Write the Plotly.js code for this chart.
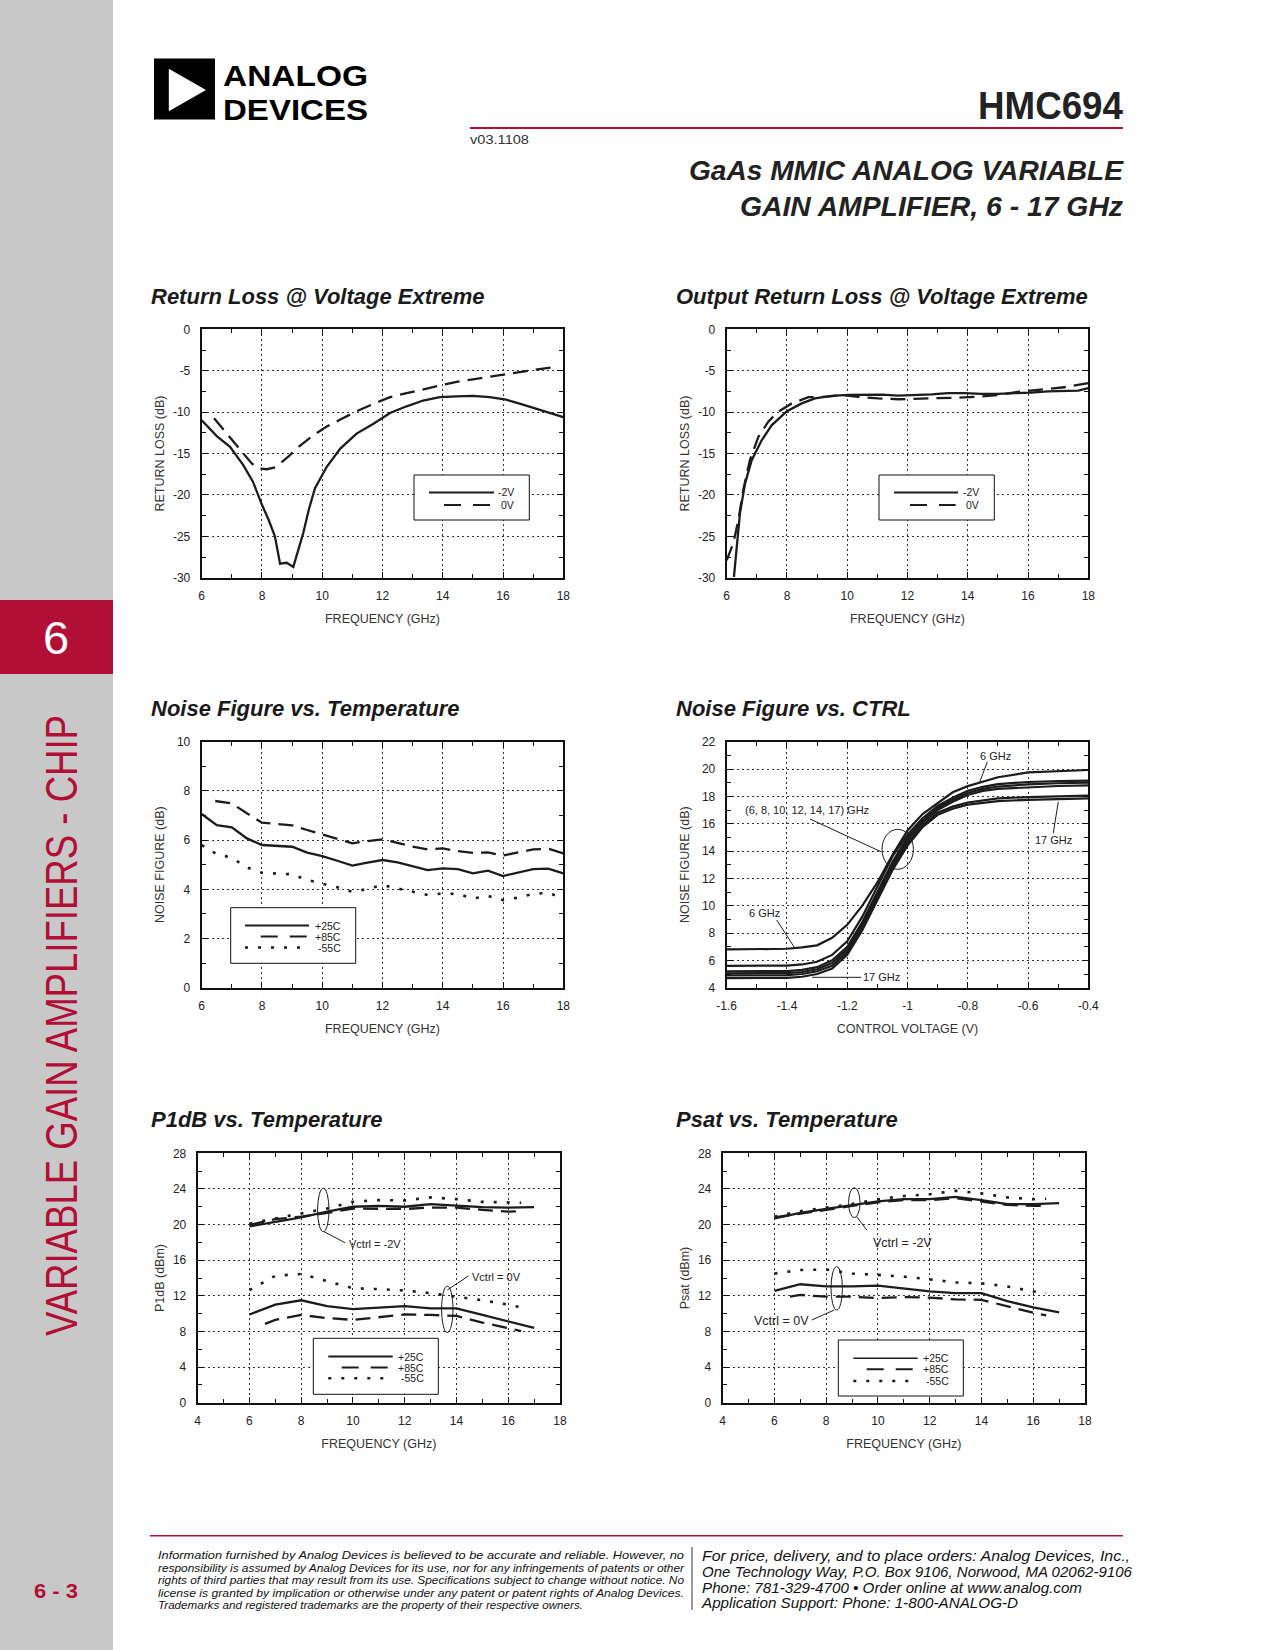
<!DOCTYPE html>
<html>
<head>
<meta charset="utf-8">
<script src="https://cdn.plot.ly/plotly-3.0.1.min.js"></script>
<style>
html,body{margin:0;padding:0;background:#fff;}
#page{position:relative;width:1275px;height:1650px;overflow:hidden;background:#fff;}
#chrome{position:absolute;left:0;top:0;}
#plot{position:absolute;left:0;top:0;width:1275px;height:1650px;}
</style>
</head>
<body>
<div id="page">
<svg id="chrome" width="1275" height="1650" font-family="Liberation Sans, Arial, Helvetica, sans-serif">
  <rect x="0" y="0" width="113" height="1650" fill="#c8c8c8"/>
  <rect x="0" y="600" width="113" height="74" fill="#b20f37"/>
  <text x="56" y="654" font-size="47" fill="#ffffff" text-anchor="middle">6</text>
  <text transform="translate(77,1336) rotate(-90)" font-size="45" fill="#b20f37" textLength="621" lengthAdjust="spacingAndGlyphs">VARIABLE GAIN AMPLIFIERS - CHIP</text>
  <text x="34" y="1598" font-size="21" font-weight="bold" fill="#b20f37" textLength="44" lengthAdjust="spacingAndGlyphs">6 - 3</text>
  <rect x="154" y="58.5" width="61" height="61" fill="#000"/>
  <polygon points="168.8,68.8 168.8,111.2 206,90" fill="#fff"/>
  <text x="223" y="85.5" font-size="30" font-weight="bold" fill="#000" textLength="145" lengthAdjust="spacingAndGlyphs">ANALOG</text>
  <text x="223" y="119.5" font-size="30" font-weight="bold" fill="#000" textLength="145" lengthAdjust="spacingAndGlyphs">DEVICES</text>
  <text x="1123" y="118.5" font-size="38" font-weight="bold" fill="#222" text-anchor="end" textLength="145" lengthAdjust="spacingAndGlyphs">HMC694</text>
  <rect x="470" y="127" width="653" height="2" fill="#b20f37"/>
  <text x="470" y="143.5" font-size="12.5" fill="#333" textLength="59" lengthAdjust="spacingAndGlyphs">v03.1108</text>
  <text x="1123" y="180" font-size="28" font-weight="bold" font-style="italic" fill="#222" text-anchor="end" textLength="434" lengthAdjust="spacingAndGlyphs">GaAs MMIC ANALOG VARIABLE</text>
  <text x="1123" y="215.5" font-size="28" font-weight="bold" font-style="italic" fill="#222" text-anchor="end" textLength="383" lengthAdjust="spacingAndGlyphs">GAIN AMPLIFIER, 6 - 17 GHz</text>
  <rect x="150" y="1535" width="973" height="1.5" fill="#b20f37"/>
  <g font-size="10.5" font-style="italic" fill="#111">
    <text x="158" y="1559" textLength="526" lengthAdjust="spacingAndGlyphs">Information furnished by Analog Devices is believed to be accurate and reliable. However, no</text>
    <text x="158" y="1571.5" textLength="526" lengthAdjust="spacingAndGlyphs">responsibility is assumed by Analog Devices for its use, nor for any infringements of patents or other</text>
    <text x="158" y="1584" textLength="526" lengthAdjust="spacingAndGlyphs">rights of third parties that may result from its use. Specifications subject to change without notice. No</text>
    <text x="158" y="1596.5" textLength="526" lengthAdjust="spacingAndGlyphs">license is granted by implication or otherwise under any patent or patent rights of Analog Devices.</text>
    <text x="158" y="1609" textLength="425" lengthAdjust="spacingAndGlyphs">Trademarks and registered trademarks are the property of their respective owners.</text>
  </g>
  <line x1="692" y1="1547" x2="692" y2="1610" stroke="#333" stroke-width="1"/>
  <g font-size="14" font-style="italic" fill="#111">
    <text x="702" y="1561" textLength="428" lengthAdjust="spacingAndGlyphs">For price, delivery, and to place orders: Analog Devices, Inc.,</text>
    <text x="702" y="1577" textLength="430" lengthAdjust="spacingAndGlyphs">One Technology Way, P.O. Box 9106, Norwood, MA 02062-9106</text>
    <text x="702" y="1592.5" textLength="380" lengthAdjust="spacingAndGlyphs">Phone: 781-329-4700 • Order online at www.analog.com</text>
    <text x="702" y="1608" textLength="316" lengthAdjust="spacingAndGlyphs">Application Support: Phone: 1-800-ANALOG-D</text>
  </g>
</svg>
<div id="plot"></div>
</div>
<script>
// ---------------- DATA ----------------
// Chart 1: Return Loss @ Voltage Extreme
const rlFreqM2V = [6,6.5,6.94,7.38,7.7,8,8.22,8.43,8.6,8.82,9.04,9.2,9.37,9.56,9.76,10.15,10.6,11.14,11.7,12.25,12.8,13.35,13.9,14.46,15,15.56,16.1,16.66,17.2,17.67,18];
const rlM2V = [-11,-12.9,-14.2,-16.4,-18.4,-21.2,-23,-25,-28.3,-28.2,-28.7,-26.8,-24.6,-21.7,-19.2,-16.6,-14.4,-12.6,-11.4,-10.1,-9.3,-8.6,-8.2,-8.1,-8.05,-8.2,-8.5,-9.1,-9.7,-10.15,-10.6];
const rlFreq0V = [6.41,6.88,7.2,7.66,7.9,8.16,8.4,8.6,8.9,9.15,9.7,10.15,10.6,11.14,11.7,12.25,12.8,13.35,13.9,14.46,15,15.56,16.1,16.66,17.2,17.67];
const rl0V = [-10.75,-12.8,-14.2,-16.2,-16.8,-16.9,-16.7,-16.2,-15.3,-14.4,-12.8,-11.75,-10.9,-9.9,-9.0,-8.2,-7.7,-7.25,-6.75,-6.35,-6.05,-5.7,-5.4,-5.1,-4.8,-4.6];
// Chart 2: Output Return Loss @ Voltage Extreme
const orlFreqM2V = [6.24,6.33,6.44,6.61,6.83,7.16,7.49,8,8.49,8.93,9.48,10.04,10.6,11.14,11.7,12.25,12.8,13.35,13.9,14.46,15,15.56,16.1,16.66,17.2,17.67,18];
const orlM2V = [-29.9,-26.3,-22.2,-18.6,-15.8,-13.4,-11.6,-9.9,-8.95,-8.35,-8.05,-7.93,-7.9,-7.9,-8.0,-7.95,-7.85,-7.7,-7.7,-7.8,-7.8,-7.7,-7.65,-7.5,-7.45,-7.4,-7.1];
const orlFreq0V = [6,6.22,6.39,6.55,6.77,7.05,7.38,7.71,8.16,8.71,9.26,9.82,10.37,11.03,11.7,12.36,13.02,13.68,14.35,15,15.66,16.1,16.66,17.2,18];
const orl0V = [-27.9,-25.8,-23,-19.4,-15.8,-13,-11.15,-9.95,-8.95,-8.2,-8.15,-7.95,-8.15,-8.35,-8.45,-8.4,-8.35,-8.25,-8.15,-7.95,-7.55,-7.4,-7.2,-7.0,-6.5];
// Chart 3: Noise Figure vs. Temperature
const nfFreq = [6,6.5,7,7.5,8,8.5,9,9.5,10,10.5,11,11.5,12,12.5,13,13.5,14,14.5,15,15.5,16,16.5,17,17.5,18];
const nf25C = [7.06,6.61,6.52,6.07,5.8,5.77,5.73,5.49,5.35,5.16,4.96,5.08,5.19,5.09,4.92,4.78,4.85,4.82,4.65,4.76,4.54,4.67,4.82,4.84,4.65];
const nfFreq85 = [6.45,7,7.5,8,8.5,9,9.5,10,10.5,11,11.5,12,12.5,13,13.5,14,14.5,15,15.5,16,16.5,17,17.5,18];
const nf85C = [7.59,7.49,7.09,6.71,6.65,6.6,6.41,6.23,6.07,5.87,5.96,6.03,5.89,5.73,5.62,5.66,5.55,5.48,5.5,5.37,5.5,5.62,5.65,5.46];
const nfm55C = [5.8,5.43,5.28,4.89,4.67,4.65,4.61,4.38,4.24,4.08,3.9,4.01,4.17,4.04,3.9,3.77,3.83,3.81,3.63,3.73,3.56,3.66,3.81,3.86,3.63];
// Chart 4: Noise Figure vs. CTRL
const ctrlV = [-1.6,-1.5,-1.4,-1.35,-1.3,-1.25,-1.2,-1.15,-1.1,-1.05,-1.0,-0.95,-0.9,-0.85,-0.8,-0.75,-0.7,-0.6,-0.5,-0.4];
const nfCtrl6 = [6.8,6.8,6.85,6.95,7.1,7.65,8.6,10.0,11.7,13.7,15.5,16.7,17.5,18.3,18.75,19.1,19.4,19.75,19.85,19.93];
const nfCtrl8 = [5.6,5.6,5.62,5.7,5.9,6.4,7.4,9.2,11.4,13.6,15.2,16.4,17.3,17.9,18.4,18.7,18.9,19.05,19.12,19.15];
const nfCtrl10 = [5.2,5.2,5.22,5.3,5.5,6.0,7.0,8.8,11.0,13.2,15.0,16.25,17.15,17.75,18.25,18.55,18.72,18.88,18.96,19.0];
const nfCtrl12 = [5.05,5.05,5.07,5.15,5.35,5.8,6.8,8.6,10.8,13.0,14.8,16.1,17.0,17.6,18.1,18.4,18.55,18.68,18.76,18.8];
const nfCtrl14 = [4.9,4.9,4.92,5.0,5.2,5.6,6.6,8.4,10.6,12.8,14.6,15.9,16.8,17.25,17.55,17.72,17.85,17.95,18.02,18.05];
const nfCtrl17 = [4.7,4.7,4.72,4.8,5.0,5.4,6.4,8.2,10.4,12.6,14.4,15.75,16.65,17.1,17.4,17.55,17.65,17.75,17.82,17.85];
// Chart 5: P1dB vs. Temperature
const pFreq = [6,7,8,9,10,11,12,13,14,15,16,17];
const pFreqCold = [6,7,8,9,10,11,12,13,14,15,16,16.5];
const pFreqHot = [6,7,8,9,10,11,12,13,14,15,16,16.5];
const pFreqHot0V = [6.6,7,8,9,10,11,12,13,14,15,16,16.5];
const p1dbM2V25 = [19.8,20.3,20.8,21.45,22.0,22.1,22.0,22.3,22.1,21.95,21.9,21.95];
const p1dbM2V85 = [19.95,20.6,20.9,21.3,21.8,21.8,21.75,21.9,21.9,21.65,21.45,21.5];
const p1dbM2Vm55 = [20.1,20.7,21.25,21.8,22.55,22.75,22.7,23.05,22.85,22.55,22.45,22.45];
const p1db0V25 = [9.9,11.0,11.5,10.85,10.5,10.7,10.85,10.6,10.6,9.85,9.1,8.4];
const p1db0V85 = [8.85,9.3,9.85,9.5,9.3,9.6,9.9,9.85,9.75,9.0,8.4,8.05];
const p1db0Vm55 = [12.65,14.25,14.45,13.65,12.85,12.75,12.6,12.3,11.9,11.5,11.0,10.7];
// Chart 6: Psat vs. Temperature
const psatM2V25 = [20.7,21.3,21.75,22.2,22.6,22.85,22.85,23.1,22.75,22.3,22.3,22.4];
const psatM2V85 = [20.8,21.2,21.65,22.1,22.5,22.75,22.75,22.95,22.55,22.2,22.1,22.1];
const psatM2Vm55 = [20.9,21.5,21.9,22.3,22.85,23.2,23.4,23.8,23.5,23.05,22.85,22.9];
const psat0V25 = [12.55,13.3,13.05,13.05,13.15,12.85,12.5,12.3,12.3,11.4,10.7,10.15];
const psat0V85 = [11.9,12.1,11.9,11.9,11.75,11.85,11.8,11.6,11.55,10.8,10.1,9.8];
const psat0Vm55 = [14.5,14.9,14.95,14.5,14.35,14.15,13.85,13.5,13.4,13.05,12.5,12.3];

// Tick labels
const freqTicks = [6,8,10,12,14,16,18];
const freqTickText = ['6','8','10','12','14','16','18'];
const freqMinor = [7,9,11,13,15,17];
const rlTicks = [-30,-25,-20,-15,-10,-5,0];
const rlTickText = ['-30','-25','-20','-15','-10','-5','0'];
const rlMinor = [-27.5,-22.5,-17.5,-12.5,-7.5,-2.5];
const nfTicks = [0,2,4,6,8,10];
const nfTickText = ['0','2','4','6','8','10'];
const nfMinor = [1,3,5,7,9];
const ctrlTicks = [-1.6,-1.4,-1.2,-1,-0.8,-0.6,-0.4];
const ctrlTickText = ['-1.6','-1.4','-1.2','-1','-0.8','-0.6','-0.4'];
const ctrlMinor = [-1.5,-1.3,-1.1,-0.9,-0.7,-0.5];
const nfcTicks = [4,6,8,10,12,14,16,18,20,22];
const nfcTickText = ['4','6','8','10','12','14','16','18','20','22'];
const nfcMinor = [5,7,9,11,13,15,17,19,21];
const pFreqTicks = [4,6,8,10,12,14,16,18];
const pFreqTickText = ['4','6','8','10','12','14','16','18'];
const pFreqMinor = [5,7,9,11,13,15,17];
const pTicks = [0,4,8,12,16,20,24,28];
const pTickText = ['0','4','8','12','16','20','24','28'];
const pMinor = [2,6,10,14,18,22,26];

// ---------------- LAYOUT ----------------
const W = 1275, H = 1650;
const px = x => x / W;
const py = y => 1 - y / H;
const FONT = 'Liberation Sans, Arial, Helvetica, sans-serif';
const INK = '#1c1c1c';

const boxes = [
  {x0:201.7, x1:563.3, y0:329.3, y1:577.7},
  {x0:726.7, x1:1088.3, y0:329.3, y1:577.7},
  {x0:201.7, x1:563.3, y0:741.7, y1:987.7},
  {x0:726.7, x1:1088.3, y0:741.7, y1:987.7},
  {x0:197.7, x1:560.0, y0:1153.3, y1:1402.7},
  {x0:722.7, x1:1085.0, y0:1153.3, y1:1402.7}
];
const yTitleStandoff = [6, 6, 10, 10, 6, 6];

function axisBase(vals, text, minor, title, range) {
  return {
    range: range, tickmode: 'array', tickvals: vals, ticktext: text,
    ticks: 'inside', ticklen: 6, tickwidth: 1, tickcolor: '#111',
    mirror: 'allticks', showline: true, linecolor: '#111', linewidth: 2,
    showgrid: true, gridcolor: '#333', griddash: '2px,3px', gridwidth: 1,
    zeroline: false, fixedrange: true,
    minor: {tickvals: minor, ticks: 'inside', ticklen: 4, tickwidth: 1, tickcolor: '#111', showgrid: false},
    tickfont: {family: FONT, size: 12, color: '#222'},
    title: {text: title, font: {family: FONT, size: 12.5, color: '#333'}}
  };
}

const layout = {
  width: W, height: H, margin: {l:0, r:0, t:0, b:0},
  paper_bgcolor: 'rgba(0,0,0,0)', plot_bgcolor: '#ffffff',
  showlegend: false, font: {family: FONT}
};

const axSpecs = [
  {x:[freqTicks,freqTickText,freqMinor,'FREQUENCY (GHz)',[6,18]], y:[rlTicks,rlTickText,rlMinor,'RETURN LOSS (dB)',[-30,0]]},
  {x:[freqTicks,freqTickText,freqMinor,'FREQUENCY (GHz)',[6,18]], y:[rlTicks,rlTickText,rlMinor,'RETURN LOSS (dB)',[-30,0]]},
  {x:[freqTicks,freqTickText,freqMinor,'FREQUENCY (GHz)',[6,18]], y:[nfTicks,nfTickText,nfMinor,'NOISE FIGURE (dB)',[0,10]]},
  {x:[ctrlTicks,ctrlTickText,ctrlMinor,'CONTROL VOLTAGE (V)',[-1.6,-0.4]], y:[nfcTicks,nfcTickText,nfcMinor,'NOISE FIGURE (dB)',[4,22]]},
  {x:[pFreqTicks,pFreqTickText,pFreqMinor,'FREQUENCY (GHz)',[4,18]], y:[pTicks,pTickText,pMinor,'P1dB (dBm)',[0,28]]},
  {x:[pFreqTicks,pFreqTickText,pFreqMinor,'FREQUENCY (GHz)',[4,18]], y:[pTicks,pTickText,pMinor,'Psat (dBm)',[0,28]]}
];

axSpecs.forEach((s, i) => {
  const n = i === 0 ? '' : String(i + 1);
  const b = boxes[i];
  const xa = axisBase(...s.x);
  xa.domain = [px(b.x0), px(b.x1)];
  xa.anchor = 'y' + n;
  xa.ticklabelstandoff = 6;
  xa.title.standoff = 12;
  const ya = axisBase(...s.y);
  ya.domain = [py(b.y1), py(b.y0)];
  ya.anchor = 'x' + n;
  ya.ticklabelstandoff = 7;
  ya.title.standoff = yTitleStandoff[i];
  layout['xaxis' + n] = xa;
  layout['yaxis' + n] = ya;
});

// ---------------- TRACES ----------------
function line(x, y, i, dash, w) {
  const n = i === 0 ? '' : String(i + 1);
  return {type:'scatter', mode:'lines', x:x, y:y, xaxis:'x'+n, yaxis:'y'+n,
          line:{color:INK, width:w || 2.3, dash:dash || 'solid'}, hoverinfo:'skip'};
}
const DASH = '15px,8px';
const DOT = '3px,10px';
const traces = [
  line(rlFreqM2V, rlM2V, 0), line(rlFreq0V, rl0V, 0, DASH),
  line(orlFreqM2V, orlM2V, 1), line(orlFreq0V, orl0V, 1, DASH),
  line(nfFreq, nf25C, 2), line(nfFreq85, nf85C, 2, DASH), line(nfFreq, nfm55C, 2, DOT, 2.6),
  line(ctrlV, nfCtrl6, 3, 'solid', 2.2), line(ctrlV, nfCtrl8, 3, 'solid', 2.2), line(ctrlV, nfCtrl10, 3, 'solid', 2.2),
  line(ctrlV, nfCtrl12, 3, 'solid', 2.2), line(ctrlV, nfCtrl14, 3, 'solid', 2.2), line(ctrlV, nfCtrl17, 3, 'solid', 2.2),
  line(pFreq, p1dbM2V25, 4), line(pFreqHot, p1dbM2V85, 4, DASH), line(pFreqCold, p1dbM2Vm55, 4, DOT, 2.6),
  line(pFreq, p1db0V25, 4), line(pFreqHot0V, p1db0V85, 4, DASH), line(pFreqCold, p1db0Vm55, 4, DOT, 2.6),
  line(pFreq, psatM2V25, 5), line(pFreqHot, psatM2V85, 5, DASH), line(pFreqCold, psatM2Vm55, 5, DOT, 2.6),
  line(pFreq, psat0V25, 5), line(pFreqHot0V, psat0V85, 5, DASH), line(pFreqCold, psat0Vm55, 5, DOT, 2.6)
];

// ---------------- DECORATIONS ----------------
const shapes = [];
const annotations = [];
function pline(x0, y0, x1, y1, dash, w) {
  shapes.push({type:'line', xref:'paper', yref:'paper', x0:px(x0), y0:py(y0), x1:px(x1), y1:py(y1),
               line:{color:INK, width:w || 1, dash:dash || 'solid'}, layer:'above'});
}
function ptext(x, y, t, size, xanchor, opts) {
  annotations.push(Object.assign({xref:'paper', yref:'paper', x:px(x), y:py(y), text:t, showarrow:false,
    xanchor:xanchor || 'left', yanchor:'middle', font:{family:FONT, size:size || 11, color:'#222'}}, opts || {}));
}
function ellipse(cx, cy, rx, ry) {
  shapes.push({type:'circle', xref:'paper', yref:'paper', x0:px(cx-rx), x1:px(cx+rx), y0:py(cy-ry), y1:py(cy+ry),
               line:{color:INK, width:1}, layer:'above'});
}
function legendBox(x0, y0, x1, y1, items) {
  shapes.push({type:'rect', xref:'paper', yref:'paper', x0:px(x0), x1:px(x1), y0:py(y0), y1:py(y1),
               line:{color:'#111', width:1}, fillcolor:'#ffffff', layer:'above'});
  items.forEach(it => {
    pline(it.a, it.y, it.b, it.y, it.dash, it.w || 2);
    ptext(it.lx, it.y, it.label, 10.5, 'right');
  });
}

// chart titles
const chartTitles = ['Return Loss @ Voltage Extreme', 'Output Return Loss @ Voltage Extreme',
  'Noise Figure vs. Temperature', 'Noise Figure vs. CTRL', 'P1dB vs. Temperature', 'Psat vs. Temperature'];
const titlePos = [[149,296.5],[674,296.5],[149,708],[674,708],[149,1119.5],[674,1119.5]];
chartTitles.forEach((t, i) => ptext(titlePos[i][0], titlePos[i][1], t, 22, 'left',
  {font:{family:FONT, size:22, color:'#1a1a1a', weight:700, style:'italic'}}));

// legends
legendBox(414, 475, 529.3, 520, [
  {a:429, b:494, y:492.5, dash:'solid', label:'-2V', lx:516},
  {a:444, b:490, y:505, dash:'17px,12px', label:'0V', lx:516}]);
legendBox(879, 475, 994.3, 520, [
  {a:894, b:958, y:492.5, dash:'solid', label:'-2V', lx:981},
  {a:910, b:955.7, y:505, dash:'17px,12px', label:'0V', lx:981}]);
legendBox(230.7, 907.7, 355.7, 963.3, [
  {a:245, b:309, y:925.5, dash:'solid', label:'+25C', lx:343},
  {a:260.7, b:306.7, y:936.5, dash:'17px,12px', label:'+85C', lx:343},
  {a:245, b:306.7, y:947.5, dash:'3px,10px', label:'-55C', lx:343, w:2.4}]);
legendBox(313.3, 1338.3, 438.3, 1394.3, [
  {a:328.3, b:392.7, y:1356.5, dash:'solid', label:'+25C', lx:426},
  {a:341.7, b:390, y:1367.5, dash:'17px,12px', label:'+85C', lx:426},
  {a:328.3, b:390, y:1378.3, dash:'3px,10px', label:'-55C', lx:426, w:2.4}]);
legendBox(838.3, 1340, 963.3, 1396, [
  {a:853.3, b:917.7, y:1358.3, dash:'solid', label:'+25C', lx:951, w:1.5},
  {a:866.7, b:915, y:1369.3, dash:'17px,12px', label:'+85C', lx:951},
  {a:853.3, b:915, y:1381, dash:'3px,10px', label:'-55C', lx:951, w:2.4}]);

// Noise Figure vs CTRL callouts
ptext(995, 756, '6 GHz', 11, 'center');
pline(987.3, 762, 979.7, 782);
ptext(806.7, 810, '(6, 8, 10, 12, 14, 17) GHz', 11, 'center');
pline(810, 819, 881, 851.7);
ellipse(897.7, 849.3, 15.7, 20);
ptext(1053.3, 840, '17 GHz', 11, 'center');
pline(1058.3, 801.7, 1053.3, 833);
ptext(764, 912.7, '6 GHz', 11, 'center');
pline(776.7, 920, 795, 948.3);
ptext(881.7, 977.3, '17 GHz', 11, 'center');
pline(812, 977.3, 861, 977.3);

// P1dB callouts
ellipse(323.3, 1210, 5.7, 21.7);
pline(324, 1231.7, 345, 1242.7);
ptext(346.5, 1244, 'Vctrl = -2V', 11, 'left');
ellipse(447.3, 1309.3, 5.7, 23.3);
pline(447.3, 1290, 468.3, 1276);
ptext(470, 1277.3, 'Vctrl = 0V', 11, 'left');

// Psat callouts
ellipse(854.3, 1202.7, 5.7, 15);
pline(856.7, 1216.7, 866.7, 1230);
ptext(871.5, 1242.7, 'Vctrl = -2V', 12.5, 'left');
ellipse(836.7, 1288.3, 5.7, 21.7);
pline(834.3, 1310, 811.7, 1320);
ptext(811, 1321, 'Vctrl = 0V', 12.5, 'right');

layout.shapes = shapes;
layout.annotations = annotations;

Plotly.newPlot('plot', traces, layout, {displayModeBar:false, staticPlot:true});
</script>
</body>
</html>
